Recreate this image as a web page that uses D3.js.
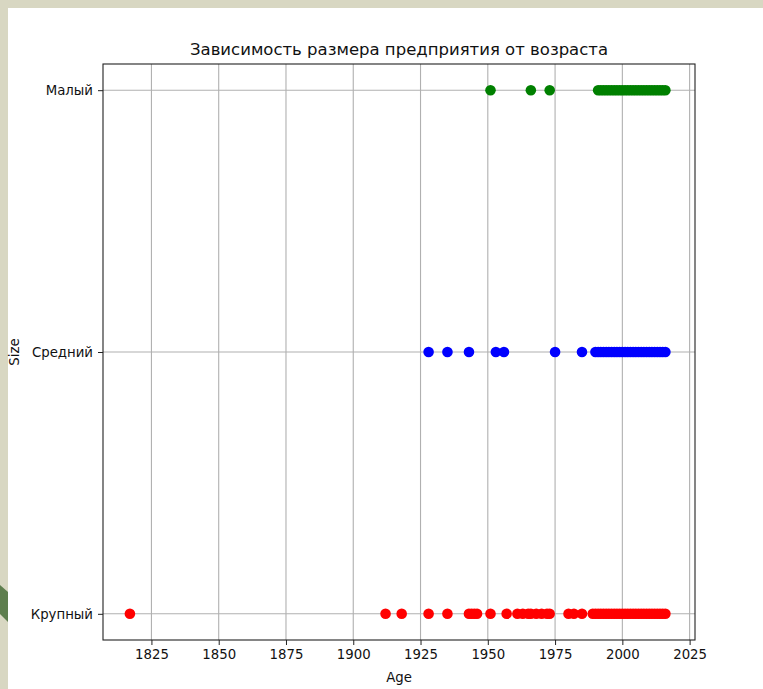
<!DOCTYPE html>
<html>
<head>
<meta charset="utf-8">
<script src="https://cdn.jsdelivr.net/npm/d3@7"></script>
<style>
  body { margin: 0; background: #d8d7c2; }
  svg { display: block; }
</style>
</head>
<body>
<svg id="graf" width="763" height="689"></svg>
<script>
// categorias (de baixo para cima)
var categorias = ["Крупный", "Средний", "Малый"];
var cores = ["red", "blue", "green"];

// anos de cada grupo
var anosKrupny = [1817, 1912, 1918, 1928, 1935, 1943, 1944, 1945, 1946, 1951, 1957,
  1961, 1963, 1965, 1966, 1968, 1970, 1972, 1973, 1980, 1982, 1985,
  1989, 1990, 1991, 1992, 1993, 1994, 1995, 1996, 1997, 1998, 1999, 2000,
  2001, 2002, 2003, 2004, 2005, 2006, 2007, 2008, 2009, 2010, 2011, 2012,
  2013, 2014, 2015, 2016];
var anosSredny = [1928, 1935, 1943, 1953, 1956, 1975, 1985,
  1990, 1991, 1992, 1993, 1994, 1995, 1996, 1997, 1998, 1999, 2000,
  2001, 2002, 2003, 2004, 2005, 2006, 2007, 2008, 2009, 2010, 2011, 2012,
  2013, 2014, 2015, 2016];
var anosMaly = [1951, 1966, 1973,
  1991, 1992, 1993, 1994, 1995, 1996, 1997, 1998, 1999, 2000,
  2001, 2002, 2003, 2004, 2005, 2006, 2007, 2008, 2009, 2010, 2011, 2012,
  2013, 2014, 2015, 2016];
var ticksX = [1825, 1850, 1875, 1900, 1925, 1950, 1975, 2000, 2025];

var grupos = [anosKrupny, anosSredny, anosMaly];

var svg = d3.select("#graf");
var fonte = "DejaVu Sans, sans-serif";

// fundo do slide
svg.append("rect").attr("x", 0).attr("y", 0).attr("width", 763).attr("height", 689).attr("fill", "#d8d7c2");
svg.append("path").attr("d", "M0,585 L8,592 L8,622 L0,614 Z").attr("fill", "#5e7e4e");
svg.append("rect").attr("x", 8).attr("y", 8).attr("width", 755).attr("height", 681).attr("fill", "#ffffff");

var esq = 103, dir = 695, topo = 64, base = 640;

var x = d3.scaleLinear().domain([1807, 2027]).range([esq, dir]);
var y = d3.scaleLinear().domain([-0.1, 2.1]).range([base, topo]);

var g = svg.append("g");

// grade
g.selectAll(".gx").data(ticksX).enter().append("line")
  .attr("x1", d => x(d)).attr("x2", d => x(d))
  .attr("y1", topo).attr("y2", base)
  .attr("stroke", "#b0b0b0").attr("stroke-width", 1.1);
g.selectAll(".gy").data(categorias).enter().append("line")
  .attr("x1", esq).attr("x2", dir)
  .attr("y1", (d, i) => y(i)).attr("y2", (d, i) => y(i))
  .attr("stroke", "#b0b0b0").attr("stroke-width", 1.1);

// pontos
grupos.forEach(function(anos, i) {
  g.append("g").selectAll("circle").data(anos).enter().append("circle")
    .attr("cx", d => x(d))
    .attr("cy", y(i))
    .attr("r", 5.3)
    .attr("fill", cores[i]);
});

// bordas
g.append("rect").attr("x", esq).attr("y", topo).attr("width", dir - esq).attr("height", base - topo)
  .attr("fill", "none").attr("stroke", "#222").attr("stroke-width", 1.1);

// eixo x
var eixoX = d3.axisBottom(x).tickValues(ticksX).tickFormat(d3.format("d")).tickSize(5).tickPadding(5);
var gx = svg.append("g").attr("transform", "translate(0," + base + ")").call(eixoX);
gx.select(".domain").remove();
gx.selectAll("line").attr("stroke", "#222");
gx.selectAll("text").attr("font-family", fonte).attr("font-size", 13.3).attr("fill", "#111");

// eixo y
var eixoY = d3.axisLeft(y).tickValues([0, 1, 2]).tickFormat(i => categorias[i]).tickSize(5).tickPadding(5);
var gy = svg.append("g").attr("transform", "translate(" + esq + ",0)").call(eixoY);
gy.select(".domain").remove();
gy.selectAll("line").attr("stroke", "#222");
gy.selectAll("text").attr("font-family", fonte).attr("font-size", 13.3).attr("fill", "#111");

// titulos
svg.append("text").attr("x", (esq + dir) / 2).attr("y", 55).attr("text-anchor", "middle")
  .attr("font-family", fonte).attr("font-size", 16.5).attr("fill", "#111")
  .text("Зависимость размера предприятия от возраста");
svg.append("text").attr("x", (esq + dir) / 2).attr("y", 682).attr("text-anchor", "middle")
  .attr("font-family", fonte).attr("font-size", 13.3).attr("fill", "#111").text("Age");
svg.append("text").attr("transform", "translate(19," + y(1) + ") rotate(-90)").attr("text-anchor", "middle")
  .attr("font-family", fonte).attr("font-size", 13.3).attr("fill", "#111").text("Size");
</script>
</body>
</html>
